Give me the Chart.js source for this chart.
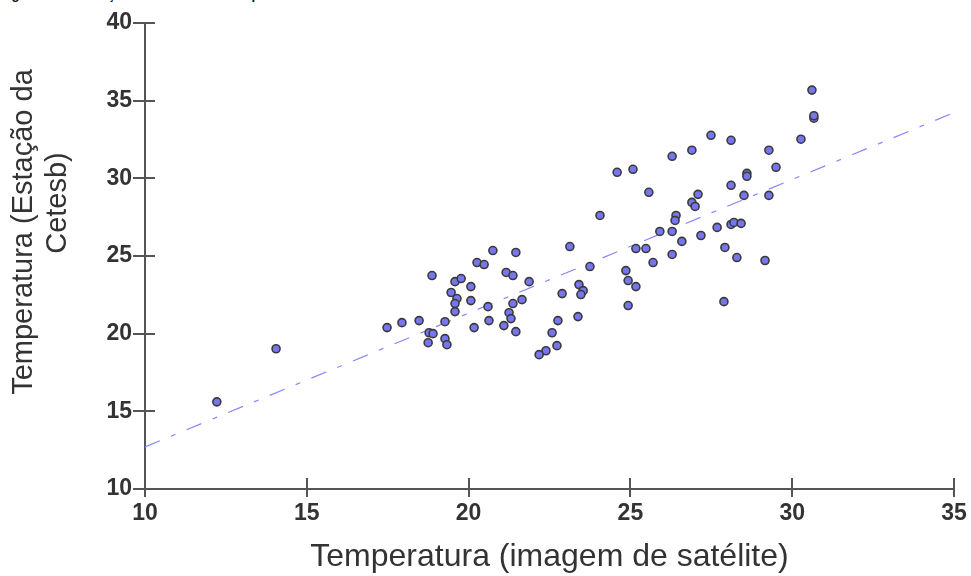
<!DOCTYPE html>
<html lang="pt-br">

<head>
    <meta charset="UTF-8">
    <title>Correlação de temperatura</title>
    <style>
        body {
            margin: 0;
            background: #fff;
            overflow: hidden;
            position: relative;
            width: 971px;
            height: 576px;
        }

        .legenda {
            position: absolute;
            top: -12px;
            left: 0;
            font: bold 13px "Liberation Sans", Arial, sans-serif;
            line-height: 13px;
            color: #111;
            white-space: nowrap;
        }

        canvas {
            position: absolute;
            top: 0;
            left: 0;
        }
    </style>
</head>

<body>
    <div class="legenda">Figura 4 - Correlação dos valores de temperatura</div>
    <canvas id="grafico" width="971" height="576"></canvas>

    <script src="https://cdn.jsdelivr.net/npm/chart.js"></script>
    <script>
        // temperatura da imagem de satelite (eixo x)
        const satelite = [
            12.22, 14.05, 17.48, 17.94, 18.47, 18.78, 18.90, 18.75, 18.87, 19.27,
            19.27, 19.33, 19.58, 19.77, 19.46, 19.64, 19.58, 19.58, 20.07, 20.07,
            20.17, 20.26, 20.48, 20.75, 21.46, 20.60, 20.63, 21.16, 21.37, 21.87,
            21.65, 21.37, 21.25, 21.31, 21.09, 21.46, 22.76, 22.58, 22.73, 22.39,
            22.18, 22.89, 23.13, 23.41, 23.54, 23.47, 23.38, 24.06, 24.59, 25.08,
            25.57, 23.75, 24.86, 24.93, 25.17, 24.93, 25.17, 25.48, 25.70, 25.91,
            26.29, 26.29, 26.29, 26.41, 26.38, 26.59, 26.90, 27.49, 28.11, 30.27,
            30.61, 30.67, 30.67, 29.28, 29.50, 28.60, 28.60, 28.11, 27.09, 28.51,
            29.28, 26.90, 27.00, 27.68, 28.11, 28.20, 28.42, 27.18, 27.92, 28.29,
            29.16, 27.89
        ];

        // temperatura da estacao da Cetesb (eixo y)
        const cetesb = [
            15.61, 19.03, 20.39, 20.71, 20.84, 20.06, 20.00, 19.42, 23.74, 20.77,
            19.68, 19.29, 23.35, 23.55, 22.65, 22.26, 21.94, 21.42, 23.03, 22.13,
            20.39, 24.58, 24.45, 25.35, 25.23, 21.74, 20.84, 23.94, 23.74, 23.35,
            22.19, 21.94, 21.35, 20.97, 20.52, 20.13, 20.84, 20.06, 19.23, 18.90,
            18.65, 22.58, 25.61, 23.16, 22.77, 22.52, 21.10, 27.61, 30.39, 30.58,
            29.10, 24.32, 24.06, 23.42, 23.03, 21.81, 25.48, 25.48, 24.58, 26.58,
            26.58, 25.10, 31.42, 27.61, 27.29, 25.94, 31.81, 32.77, 32.45, 32.52,
            35.68, 33.87, 34.03, 31.81, 30.71, 30.32, 30.13, 29.55, 28.97, 28.90,
            28.90, 28.45, 28.19, 26.84, 27.03, 27.16, 27.10, 26.32, 25.55, 24.90,
            24.71, 22.06
        ];

        // reta de regressao
        const retaX = [10, 35];
        const retaY = [12.71, 34.23];

        const eixoX = { min: 10, max: 35, passo: 5 };
        const eixoY = { min: 10, max: 40, passo: 5 };

        const tituloY = ['Temperatura (Estação da', 'Cetesb)'];
        const tituloX = 'Temperatura (imagem de satélite)';

        const pontos = satelite.map((x, i) => ({ x: x, y: cetesb[i] }));
        const reta = retaX.map((x, i) => ({ x: x, y: retaY[i] }));

        const cinza = '#555555';

        // tracinhos que cruzam os eixos (parte de dentro) + titulo do eixo y
        const tracosDentro = {
            id: 'tracosDentro',
            afterDraw(chart) {
                const ctx = chart.ctx;
                const sx = chart.scales.x;
                const sy = chart.scales.y;
                const area = chart.chartArea;
                ctx.save();
                ctx.strokeStyle = cinza;
                ctx.lineWidth = 2;
                ctx.beginPath();
                sx.ticks.forEach(t => {
                    const px = Math.round(sx.getPixelForValue(t.value));
                    ctx.moveTo(px, area.bottom);
                    ctx.lineTo(px, area.bottom - 11);
                });
                sy.ticks.forEach(t => {
                    const py = Math.round(sy.getPixelForValue(t.value));
                    ctx.moveTo(area.left, py);
                    ctx.lineTo(area.left + 10, py);
                });
                ctx.stroke();

                ctx.fillStyle = '#333';
                ctx.font = '29px "Liberation Sans", Arial, sans-serif';
                ctx.textAlign = 'center';
                ctx.textBaseline = 'middle';
                const centros = [[24, area.top + 209], [58, area.top + 180]];
                tituloY.forEach((linha, i) => {
                    ctx.save();
                    ctx.translate(centros[i][0], centros[i][1]);
                    ctx.rotate(-Math.PI / 2);
                    ctx.fillText(linha, 0, 0);
                    ctx.restore();
                });
                ctx.restore();
            }
        };

        const ctx01 = document.getElementById('grafico');

        new Chart(ctx01, {
            type: 'scatter',
            data: {
                datasets: [{
                    label: 'Pontos',
                    data: pontos,
                    backgroundColor: '#7676ee',
                    borderColor: '#3a3a3a',
                    borderWidth: 1.6,
                    pointRadius: 4,
                    pointHoverRadius: 4
                }, {
                    label: 'Regressão',
                    type: 'line',
                    data: reta,
                    borderColor: '#8686ff',
                    borderWidth: 1.2,
                    borderDash: [16, 12, 5, 12],
                    pointRadius: 0,
                    fill: false
                }]
            },
            options: {
                responsive: false,
                devicePixelRatio: 1,
                animation: false,
                layout: {
                    padding: { top: 23, right: 17, left: 0, bottom: 0 }
                },
                plugins: {
                    legend: { display: false },
                    tooltip: { enabled: false }
                },
                scales: {
                    x: {
                        type: 'linear',
                        min: eixoX.min,
                        max: eixoX.max,
                        afterFit: s => { s.height = 87; },
                        border: { display: true, color: cinza, width: 2 },
                        grid: {
                            drawOnChartArea: false,
                            drawTicks: true,
                            tickLength: 8,
                            color: cinza,
                            lineWidth: 2
                        },
                        ticks: {
                            stepSize: eixoX.passo,
                            padding: 3,
                            color: '#333',
                            font: { family: '"Liberation Sans Narrow", "Liberation Sans", Arial, sans-serif', size: 23, weight: 'bold' }
                        },
                        title: {
                            display: true,
                            text: tituloX,
                            color: '#333',
                            padding: { top: 0, bottom: 0 },
                            font: { family: '"Liberation Sans", Arial, sans-serif', size: 32, weight: 'normal' }
                        }
                    },
                    y: {
                        type: 'linear',
                        min: eixoY.min,
                        max: eixoY.max,
                        afterFit: s => { s.width = 145; },
                        border: { display: true, color: cinza, width: 2 },
                        grid: {
                            drawOnChartArea: false,
                            drawTicks: true,
                            tickLength: 12,
                            color: cinza,
                            lineWidth: 2
                        },
                        ticks: {
                            stepSize: eixoY.passo,
                            padding: 1,
                            color: '#333',
                            font: { family: '"Liberation Sans", Arial, sans-serif', size: 23, weight: 'bold' }
                        }
                    }
                }
            },
            plugins: [tracosDentro]
        });
    </script>

</body>

</html>
